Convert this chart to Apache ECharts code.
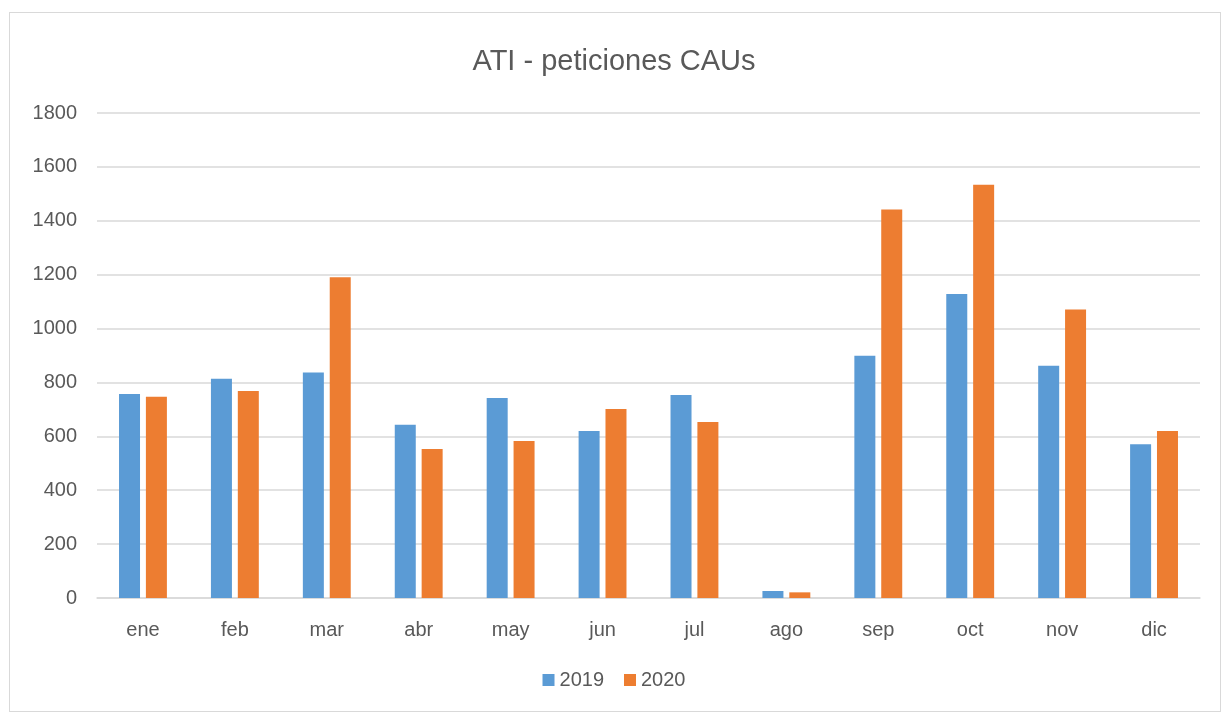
<!DOCTYPE html>
<html>
<head>
<meta charset="utf-8">
<script src="https://cdn.jsdelivr.net/npm/echarts@6/dist/echarts.min.js"></script>
<style>
html,body{margin:0;padding:0;background:#fff;}
#frame{position:absolute;left:9px;top:12px;width:1212px;height:700px;border:1px solid #d9d9d9;box-sizing:border-box;}
#chart{position:absolute;left:0;top:0;width:1228px;height:715px;}
</style>
</head>
<body>
<div id="frame"></div>
<div id="chart"></div>
<script>
const categories = ['ene','feb','mar','abr','may','jun','jul','ago','sep','oct','nov','dic'];
const values2019 = [757, 814, 837, 643, 742, 620, 753, 26, 899, 1128, 862, 571];
const values2020 = [747, 768, 1190, 553, 583, 701, 653, 21, 1442, 1534, 1071, 620];
const yTicks = {min: 0, max: 1800, interval: 200};

const chart = echarts.init(document.getElementById('chart'));
const font = '"Liberation Sans", "DejaVu Sans", sans-serif';
chart.setOption({
  animation: false,
  title: {
    text: 'ATI - peticiones CAUs',
    left: 'center',
    top: 42,
    textStyle: {fontFamily: font, fontSize: 29, fontWeight: 'normal', color: '#595959'}
  },
  legend: {
    data: ['2019','2020'],
    bottom: 20,
    left: 'center',
    itemWidth: 12,
    itemHeight: 12,
    itemGap: 20,
    icon: 'rect',
    textStyle: {fontFamily: font, fontSize: 20, color: '#595959'}
  },
  grid: {left: 97, right: 28, top: 113, bottom: 117},
  xAxis: {
    type: 'category',
    data: categories,
    axisLine: {lineStyle: {color: '#d9d9d9', width: 1.5}},
    axisTick: {show: false},
    axisLabel: {fontFamily: font, fontSize: 20, color: '#595959', margin: 22}
  },
  yAxis: {
    type: 'value',
    min: yTicks.min, max: yTicks.max, interval: yTicks.interval,
    axisLine: {show: false},
    axisTick: {show: false},
    axisLabel: {fontFamily: font, fontSize: 20, color: '#595959', margin: 20, formatter: v => String(v)},
    splitLine: {lineStyle: {color: '#d9d9d9', width: 1.5}}
  },
  series: [
    {name: '2019', type: 'bar', data: values2019, barWidth: 21, barGap: '28%', itemStyle: {color: '#5b9bd5'}},
    {name: '2020', type: 'bar', data: values2020, barWidth: 21, itemStyle: {color: '#ed7d31'}}
  ]
});
</script>
</body>
</html>
